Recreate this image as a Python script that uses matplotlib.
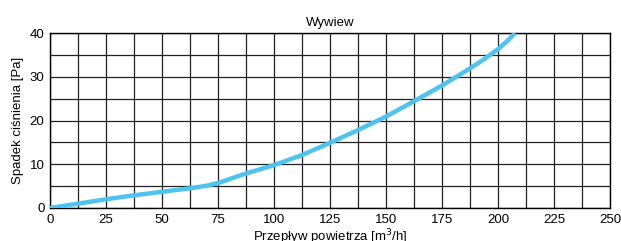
import matplotlib
matplotlib.use('Agg')
import matplotlib.pyplot as plt
import numpy as np

plt.rcParams['font.family'] = ['Liberation Sans', 'DejaVu Sans']

flow = [0, 12.5, 25, 37.5, 50, 62.5, 70, 75, 87.5, 100, 112.5, 125, 137.5, 150, 162.5, 175, 187.5, 193.75, 200, 204, 207.6]
dp = [0, 1.0, 2.0, 2.9, 3.7, 4.5, 5.1, 5.7, 7.9, 9.8, 12.1, 14.9, 17.8, 20.9, 24.4, 28.0, 31.9, 34.0, 36.3, 38.1, 40]

fig = plt.figure(figsize=(6.21, 2.41), dpi=100)
ax = fig.add_axes([50/621, 1 - 208/241, 560/621, 175/241])

ax.plot(flow, dp, color='#4DC3F0', linewidth=3.2, solid_capstyle='butt',
        solid_joinstyle='round', zorder=3)

ax.set_xlim(0, 250)
ax.set_ylim(0, 40)
ax.set_xticks(np.arange(0, 251, 25))
ax.set_yticks(np.arange(0, 41, 10))
ax.set_xticks(np.arange(0, 251, 12.5), minor=True)
ax.set_yticks(np.arange(0, 41, 5), minor=True)
ax.grid(True, which='both', color='#222222', linewidth=0.9)
ax.tick_params(which='both', length=0, labelsize=9.5, pad=4)
for s in ax.spines.values():
    s.set_color('black')
    s.set_linewidth(1)

ax.set_title('Wywiew', fontsize=9.5, pad=5)
ax.set_xlabel('Przepływ powietrza [m$^3$/h]', fontsize=9.5, labelpad=1)
ax.set_ylabel('Spadek ciśnienia [Pa]', fontsize=9.5, labelpad=4)

fig.savefig('out.png', dpi=100)
